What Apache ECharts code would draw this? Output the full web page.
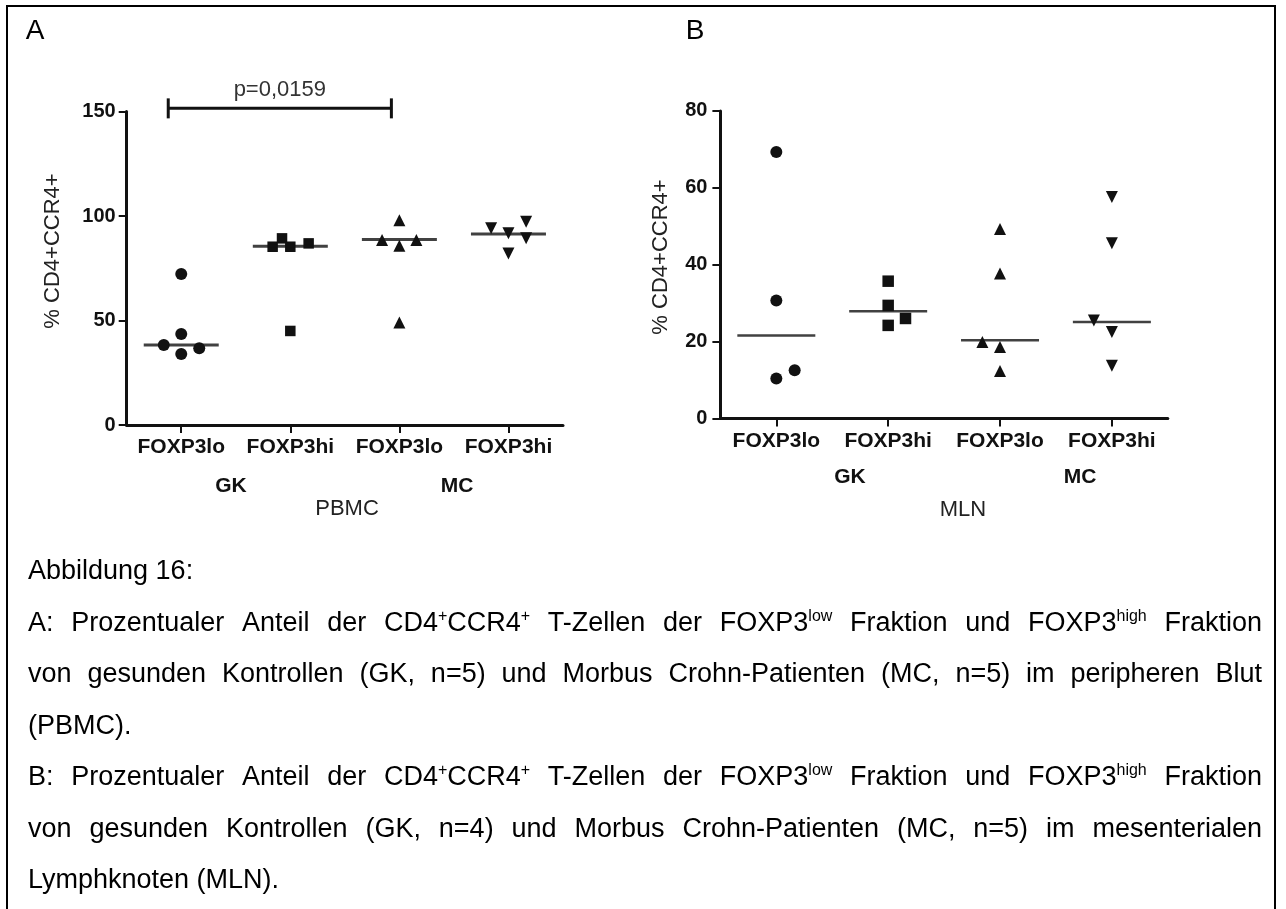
<!DOCTYPE html>
<html><head><meta charset="utf-8">
<script src="https://cdn.jsdelivr.net/npm/echarts@6/dist/echarts.min.js"></script>
<style>html,body{margin:0;padding:0;background:#fff}#c{width:1286px;height:909px}</style>
</head><body><div id="c"></div>
<script>
// ---------- DATA ----------
const categories = ['FOXP3lo', 'FOXP3hi', 'FOXP3lo', 'FOXP3hi'];
const groupNames = ['GK', 'MC'];
const panelTitles = ['PBMC', 'MLN'];
const yAxisTitle = '% CD4+CCR4+';
const yTicksA = [0, 50, 100, 150];
const yTicksB = [0, 20, 40, 60, 80];

// Panel A: PBMC
const pbmcGkLo = [72.2, 43.5, 38.3, 36.7, 34.0];
const pbmcGkHi = [89.3, 85.3, 85.3, 86.9, 45.0];
const pbmcMcLo = [98.0, 88.5, 88.5, 85.8, 49.0];
const pbmcMcHi = [94.1, 91.7, 97.3, 89.3, 82.1];
const pbmcMedians = [38.3, 85.5, 88.7, 91.4];
// horizontal scatter jitter of the points (category units)
const pbmcGkLoJitter = [0, 0, -0.16, 0.165, 0];
const pbmcGkHiJitter = [-0.076, -0.162, 0, 0.168, 0];
const pbmcMcLoJitter = [0, -0.159, 0.156, 0, 0];
const pbmcMcHiJitter = [-0.159, 0, 0.162, 0.162, 0];
const pbmcTest = { fromCat: 0, toCat: 2, level: 151.5, label: 'p=0,0159' };

// Panel B: MLN
const mlnGkLo = [69.3, 30.7, 12.5, 10.4];
const mlnGkHi = [35.7, 29.4, 26.0, 24.2];
const mlnMcLo = [49.3, 37.7, 19.9, 18.6, 12.3];
const mlnMcHi = [57.6, 45.6, 25.5, 22.5, 13.7];
const mlnMedians = [21.6, 27.9, 20.3, 25.1];
const mlnGkLoJitter = [0, 0, 0.164, 0];
const mlnGkHiJitter = [0, 0, 0.155, 0];
const mlnMcLoJitter = [0, 0, -0.158, 0, 0];
const mlnMcHiJitter = [0, 0, -0.161, 0, 0];

const captionLines = [
  'Abbildung 16:',
  'A: Prozentualer Anteil der CD4^{+}CCR4^{+} T-Zellen der FOXP3^{low} Fraktion und FOXP3^{high} Fraktion',
  'von gesunden Kontrollen (GK, n=5) und Morbus Crohn-Patienten (MC, n=5) im peripheren Blut',
  '(PBMC).',
  'B: Prozentualer Anteil der CD4^{+}CCR4^{+} T-Zellen der FOXP3^{low} Fraktion und FOXP3^{high} Fraktion',
  'von gesunden Kontrollen (GK, n=4) und Morbus Crohn-Patienten (MC, n=5) im mesenterialen',
  'Lymphknoten (MLN).'
];
const justifiedLines = [1, 2, 4, 5];

// ---------- LAYOUT / STYLE ----------
const FONT = '"Liberation Sans", Arial, Helvetica, sans-serif';
const INK = '#111';
const chart = echarts.init(document.getElementById('c'), null, { renderer: 'canvas' });

const grids = [
  { left: 126.7, top: 111.5, width: 436.3, height: 313.5 },
  { left: 720.4, top: 110.9, width: 447.4, height: 307.5 }
];

function catAxis(gi) {
  return {
    type: 'category', gridIndex: gi, data: categories, boundaryGap: true,
    axisLine: { show: true, onZero: false, lineStyle: { color: INK, width: 3 } },
    axisTick: { show: true, alignWithLabel: true, length: 8, lineStyle: { color: INK, width: 2 } },
    axisLabel: { interval: 0, margin: 12, color: INK, fontFamily: FONT, fontWeight: 'bold', fontSize: 21 },
    splitLine: { show: false }
  };
}
function posAxis(gi) {
  return { type: 'value', gridIndex: gi, min: -0.5, max: 3.5, show: false };
}
function valAxis(gi, ticks, margin) {
  return {
    type: 'value', gridIndex: gi, min: ticks[0], max: ticks[ticks.length - 1],
    interval: ticks[1] - ticks[0],
    axisLine: { show: true, onZero: false, lineStyle: { color: INK, width: 3 } },
    axisTick: { show: true, length: 8, lineStyle: { color: INK, width: 2 } },
    axisLabel: { margin: margin, color: INK, fontFamily: FONT, fontWeight: 'bold', fontSize: 20 },
    splitLine: { show: false }
  };
}

function points(values, jitter, cat) {
  return values.map((v, i) => [cat + jitter[i], v]);
}
function scatter(gi, values, jitter, cat, symbol, size, rotate) {
  return {
    type: 'scatter', xAxisIndex: gi * 2 + 1, yAxisIndex: gi,
    data: points(values, jitter, cat), symbol: symbol, symbolSize: size,
    symbolRotate: rotate || 0, silent: true, z: 3,
    itemStyle: { color: INK, opacity: 1 }
  };
}
function medians(gi, meds, w, h) {
  return {
    type: 'scatter', xAxisIndex: gi * 2 + 1, yAxisIndex: gi,
    data: meds.map((m, i) => [i, m]), symbol: 'rect', symbolSize: [w, h],
    silent: true, z: 4, itemStyle: { color: INK }
  };
}

const series = [
  scatter(0, pbmcGkLo, pbmcGkLoJitter, 0, 'circle', 12),
  scatter(0, pbmcGkHi, pbmcGkHiJitter, 1, 'rect', 10.5),
  scatter(0, pbmcMcLo, pbmcMcLoJitter, 2, 'triangle', 12),
  scatter(0, pbmcMcHi, pbmcMcHiJitter, 3, 'triangle', 12, 180),
  medians(0, pbmcMedians, 75, 3),
  scatter(1, mlnGkLo, mlnGkLoJitter, 0, 'circle', 12),
  scatter(1, mlnGkHi, mlnGkHiJitter, 1, 'rect', 11.5),
  scatter(1, mlnMcLo, mlnMcLoJitter, 2, 'triangle', 12),
  scatter(1, mlnMcHi, mlnMcHiJitter, 3, 'triangle', 12, 180),
  medians(1, mlnMedians, 78, 2.5),
  {
    type: 'custom', xAxisIndex: 1, yAxisIndex: 0, silent: true, clip: false, z: 5,
    encode: { x: [0, 1], y: 2 },
    data: [[pbmcTest.fromCat, pbmcTest.toCat, pbmcTest.level]],
    renderItem: function (params, api) {
      const a = api.coord([api.value(0), api.value(2)]);
      const b = api.coord([api.value(1), api.value(2)]);
      const x1 = a[0] - 13, x2 = b[0] - 8, y = a[1];
      const st = { stroke: INK, lineWidth: 3 };
      return {
        type: 'group', children: [
          { type: 'line', shape: { x1: x1, y1: y, x2: x2, y2: y }, style: st },
          { type: 'line', shape: { x1: x1, y1: y - 10, x2: x1, y2: y + 10 }, style: st },
          { type: 'line', shape: { x1: x2, y1: y - 10, x2: x2, y2: y + 10 }, style: st },
          { type: 'text', x: (x1 + x2) / 2, y: y - 18,
            style: { text: pbmcTest.label, fill: '#333', fontFamily: FONT, fontSize: 22,
                     align: 'center', verticalAlign: 'middle' } }
        ]
      };
    }
  }
];

// ---------- CAPTION (justified like the source document) ----------
const measureCtx = document.createElement('canvas').getContext('2d');
function textW(t, size) { measureCtx.font = size + 'px ' + FONT; return measureCtx.measureText(t).width; }
function parseWord(word) {
  const out = []; const re = /\^\{([^}]*)\}/g; let last = 0, m;
  while ((m = re.exec(word))) {
    if (m.index > last) out.push({ t: word.slice(last, m.index), sup: false });
    out.push({ t: m[1], sup: true }); last = re.lastIndex;
  }
  if (last < word.length) out.push({ t: word.slice(last), sup: false });
  return out;
}
const CAP_SIZE = 27, SUP_SIZE = 16, CAP_LEFT = 28, CAP_RIGHT = 1262, CAP_Y0 = 572, CAP_DY = 51.5;
const captionEls = [];
captionLines.forEach((line, li) => {
  const cy = CAP_Y0 + li * CAP_DY;
  const words = line.split(' ').map(parseWord);
  const widths = words.map(ws => ws.reduce((s, sg) => s + textW(sg.t, sg.sup ? SUP_SIZE : CAP_SIZE), 0));
  const total = widths.reduce((a, b) => a + b, 0);
  const gap = justifiedLines.includes(li) && words.length > 1
    ? (CAP_RIGHT - CAP_LEFT - total) / (words.length - 1)
    : textW(' ', CAP_SIZE);
  let x = CAP_LEFT;
  words.forEach((ws, wi) => {
    let sx = x;
    ws.forEach(sg => {
      const size = sg.sup ? SUP_SIZE : CAP_SIZE;
      captionEls.push({
        type: 'text', x: sx, y: sg.sup ? cy - 7 : cy, silent: true,
        style: { text: sg.t, fill: '#000', fontFamily: FONT, fontSize: size, align: 'left', verticalAlign: 'middle' }
      });
      sx += textW(sg.t, size);
    });
    x += widths[wi] + gap;
  });
});

function label(text, x, y, size, weight, color, rot) {
  return {
    type: 'text', x: x, y: y, rotation: rot || 0, silent: true,
    style: { text: text, fill: color, fontFamily: FONT, fontSize: size, fontWeight: weight,
             align: 'center', verticalAlign: 'middle' }
  };
}

const graphics = [
  { type: 'rect', silent: true, shape: { x: 7, y: 6, width: 1268, height: 930 },
    style: { fill: 'none', stroke: '#000', lineWidth: 2 } },
  label('A', 35, 31, 28, 'normal', '#000'),
  label('B', 695, 31, 28, 'normal', '#000'),
  label(yAxisTitle, 53, 251, 22, 'normal', '#222', Math.PI / 2),
  label(yAxisTitle, 661, 257, 22, 'normal', '#222', Math.PI / 2),
  label(groupNames[0], 231, 486, 21, 'bold', INK),
  label(groupNames[1], 457, 486, 21, 'bold', INK),
  label(panelTitles[0], 347, 509, 22, 'normal', '#222'),
  label(groupNames[0], 850, 477, 21, 'bold', INK),
  label(groupNames[1], 1080, 477, 21, 'bold', INK),
  label(panelTitles[1], 963, 510, 22, 'normal', '#222')
].concat(captionEls);

chart.setOption({
  animation: false,
  backgroundColor: '#fff',
  grid: grids,
  xAxis: [catAxis(0), posAxis(0), catAxis(1), posAxis(1)],
  yAxis: [valAxis(0, yTicksA, 11), valAxis(1, yTicksB, 13)],
  series: series,
  graphic: graphics
});
</script></body></html>
